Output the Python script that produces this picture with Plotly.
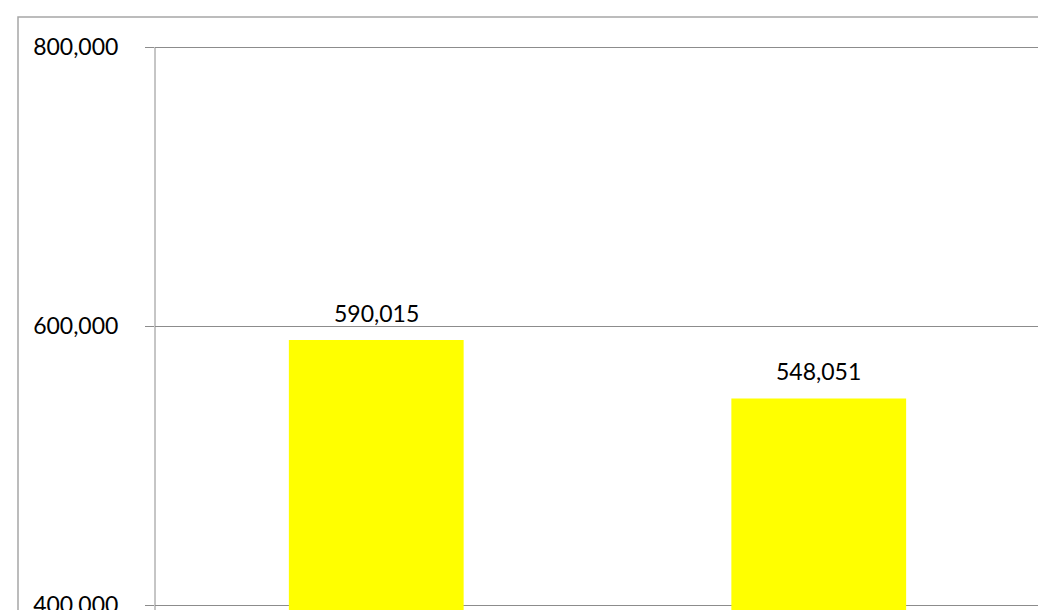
import plotly.graph_objects as go

categories = ["A", "B"]
values = [590015, 548051]
value_labels = ["590,015", "548,051"]
y_tick_vals = [400000, 600000, 800000]
y_tick_text = ["400,000", "600,000", "800,000"]

W, H = 1038, 610
left, top = 155, 45
plot_w = W - left
plot_h = H - top

FONT = "Lato, Open Sans, sans-serif"

fig = go.Figure()
fig.add_trace(go.Bar(
    x=categories,
    y=values,
    marker=dict(color="#FFFF00", line=dict(width=0)),
    width=0.395,
    hoverinfo="skip",
))

for c, v, t in zip(categories, values, value_labels):
    fig.add_annotation(
        x=c, y=v, text=t, showarrow=False,
        yanchor="bottom", yshift=11,
        font=dict(family=FONT, size=23, color="#000000"),
    )

cat_px = 442.5
x_end = -0.5 + plot_w / cat_px
y_per_px = 200000 / 279.0
y_max = 800000 + 2 * y_per_px
y_min = y_max - plot_h * y_per_px

fig.update_layout(
    width=W, height=H,
    margin=dict(l=left, r=0, t=top, b=0, autoexpand=False),
    paper_bgcolor="white",
    plot_bgcolor="white",
    showlegend=False,
)
fig.update_xaxes(
    type="category",
    range=[-0.5, x_end],
    showticklabels=False,
    showgrid=False,
    showline=False,
    ticks="",
)
fig.update_yaxes(
    range=[y_min, y_max],
    tickvals=y_tick_vals,
    ticktext=y_tick_text,
    tickfont=dict(family=FONT, size=23, color="#000000"),
    ticklabeloverflow="allow",
    showgrid=True,
    gridcolor="#8c8c8c",
    gridwidth=1,
    showline=False,
    ticks="outside",
    ticklen=9,
    tickcolor="#8c8c8c",
    ticklabelstandoff=22,
    zeroline=False,
    automargin=False,
)

# y-axis line from the 800,000 gridline downward (data coords on y)
fig.add_shape(
    type="line", xref="paper", yref="y",
    x0=0, x1=0, y0=y_min, y1=y_tick_vals[-1],
    line=dict(color="#8c8c8c", width=1),
)

# outer chart-area border (extends past the right edge of the crop)
fig.add_shape(
    type="rect", xref="paper", yref="paper",
    x0=(18 - left) / plot_w, x1=(W + 20 - left) / plot_w,
    y0=-0.2, y1=(H - 17) / plot_h,
    line=dict(color="#a6a6a6", width=1.5),
    fillcolor="rgba(0,0,0,0)",
    layer="below",
)

fig.write_html(
    "out.html",
    config={"displayModeBar": False},
    post_script="document.body.style.margin='0px';document.body.style.overflow='hidden';",
)
